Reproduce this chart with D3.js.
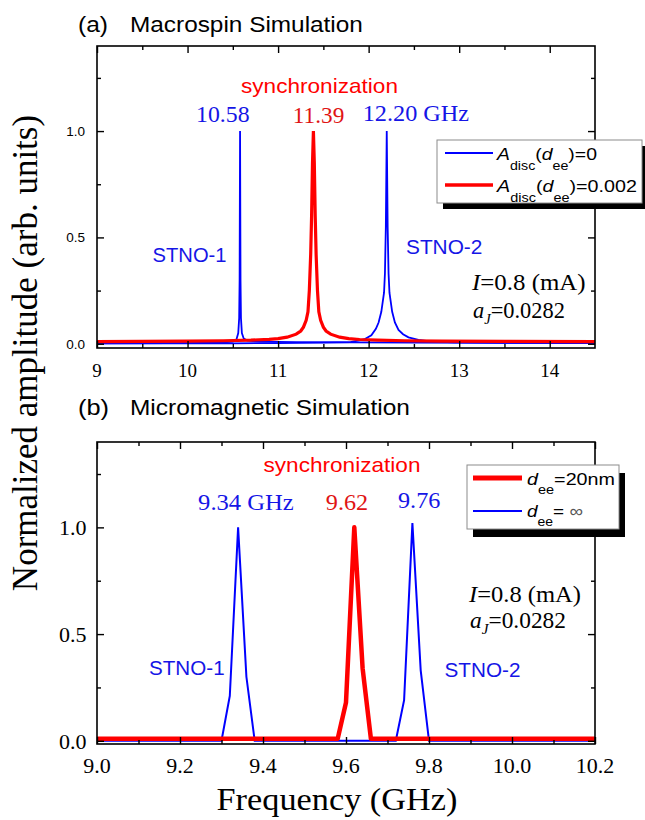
<!DOCTYPE html>
<html>
<head>
<meta charset="utf-8">
<script src="https://cdn.jsdelivr.net/npm/d3@7/dist/d3.min.js"></script>
<style>
  html, body { margin: 0; padding: 0; background: #fff; }
  svg { display: block; }
  text { white-space: pre; }
</style>
</head>
<body>
<svg id="chart" width="645" height="820"></svg>
<script>
// ---------- (a) macrospin spectra: frequency (GHz) / normalized amplitude ----------
const macroStno1Freq = [9.0, 9.8, 10.2, 10.4, 10.5, 10.54, 10.56, 10.57, 10.575, 10.58, 10.585, 10.59, 10.6, 10.62, 10.66, 10.8, 11.2, 11.8, 12.5, 13.5, 14.5];
const macroStno1Amp  = [0.002, 0.003, 0.004, 0.006, 0.01, 0.02, 0.05, 0.12, 0.3, 1.0, 0.3, 0.12, 0.05, 0.025, 0.015, 0.01, 0.008, 0.006, 0.005, 0.004, 0.003];

const macroStno2Freq = [9.0, 10.0, 10.5, 11.0, 11.5, 11.8, 11.95, 12.03, 12.08, 12.11, 12.14, 12.17, 12.18, 12.19, 12.2, 12.21, 12.22, 12.23, 12.26, 12.29, 12.33, 12.38, 12.44, 12.55, 12.7, 12.95, 13.5, 14.5];
const macroStno2Amp  = [0.002, 0.002, 0.002, 0.003, 0.005, 0.008, 0.02, 0.04, 0.07, 0.1, 0.15, 0.24, 0.33, 0.55, 1.0, 0.55, 0.33, 0.24, 0.15, 0.1, 0.065, 0.045, 0.03, 0.018, 0.01, 0.006, 0.004, 0.003];

const macroSyncFreq = [9.0, 9.5, 10.0, 10.4, 10.7, 10.9, 11.0, 11.1, 11.2, 11.25, 11.28, 11.31, 11.33, 11.345, 11.36, 11.37, 11.38, 11.39, 11.40, 11.41, 11.42, 11.435, 11.45, 11.47, 11.50, 11.53, 11.58, 11.68, 11.78, 11.9, 12.1, 12.4, 12.8, 13.5, 14.5];
const macroSyncAmp  = [0.010, 0.011, 0.012, 0.014, 0.017, 0.021, 0.024, 0.031, 0.045, 0.06, 0.078, 0.11, 0.15, 0.25, 0.42, 0.6, 0.85, 1.0, 0.85, 0.6, 0.42, 0.25, 0.15, 0.11, 0.078, 0.06, 0.045, 0.031, 0.024, 0.02, 0.017, 0.014, 0.012, 0.011, 0.010];

const macroPeaks  = [10.58, 11.39, 12.20];
const macroXTicks = [9, 10, 11, 12, 13, 14];
const macroXMinor = [9.5, 10.5, 11.5, 12.5, 13.5];

// ---------- (b) micromagnetic spectra ----------
const microFreeFreq = [9.0, 9.30, 9.32, 9.34, 9.36, 9.38, 9.72, 9.74, 9.76, 9.78, 9.80, 10.2];
const microFreeAmp  = [0, 0, 0.21, 1.0, 0.30, 0, 0, 0.19, 1.02, 0.33, 0, 0];

const microSyncFreq = [9.0, 9.58, 9.60, 9.62, 9.64, 9.66, 10.2];
const microSyncAmp  = [0.01, 0.01, 0.18, 1.0, 0.34, 0.01, 0.01];

const microPeaks  = [9.34, 9.62, 9.76];
const microXTicks = [9.0, 9.2, 9.4, 9.6, 9.8, 10.0, 10.2];
const microXMinor = [9.1, 9.3, 9.5, 9.7, 9.9, 10.1];

const yTicks = [0.0, 0.5, 1.0];
const yMinor = [0.25, 0.75, 1.25];

// ---------- drawing ----------
const SANS  = "'Liberation Sans', Arial, Helvetica, sans-serif";
const SERIF = "'Liberation Serif', 'Times New Roman', Times, serif";
const BLUE = '#0000ff', RED = '#ff0000';
const BLUE_TEXT = '#1515e6', RED_TEXT = '#e01414';

const svg = d3.select('#chart');
const defs = svg.append('defs');

// Text with optional italic / subscript parts; `width` stretches it horizontally.
function label(parent, x, y, parts, o) {
  const g = parent.append('g').attr('transform', `translate(${x},${y})`);
  const t = g.append('text')
    .attr('font-family', o.family)
    .attr('font-size', o.size)
    .attr('fill', o.color || '#000')
    .attr('text-anchor', o.anchor || 'start');
  let shift = 0;
  parts.forEach(p => {
    if (typeof p === 'string') p = { t: p };
    const want = p.sub ? (o.subShift || Math.round(o.size * 0.45)) : 0;
    const ts = t.append('tspan').text(p.t);
    if (want !== shift) ts.attr('dy', want - shift);
    shift = want;
    if (p.sub) ts.attr('font-size', o.subSize || o.size * 0.7);
    if (p.italic) ts.attr('font-style', 'italic');
    if (p.color) ts.attr('fill', p.color);
  });
  if (o.width) {
    const w = t.node().getComputedTextLength();
    if (w > 0) t.attr('transform', `scale(${o.width / w},1)`);
  }
  return g;
}

function panel(cfg) {
  const x = d3.scaleLinear().domain(cfg.xDomain).range([cfg.left, cfg.right]);
  const y = d3.scaleLinear().domain(cfg.yDomain).range([cfg.bottom, cfg.top]);
  const g = svg.append('g');

  defs.append('clipPath').attr('id', cfg.id).append('rect')
    .attr('x', cfg.left).attr('y', cfg.top)
    .attr('width', cfg.right - cfg.left).attr('height', cfg.bottom - cfg.top);

  const plot = g.append('g').attr('clip-path', `url(#${cfg.id})`);
  const line = d3.line().x(d => x(d[0])).y(d => y(d[1]));
  cfg.series.forEach(s => {
    plot.append('path')
      .datum(d3.zip(s.freq, s.amp))
      .attr('d', line)
      .attr('fill', 'none')
      .attr('stroke', s.color)
      .attr('stroke-width', s.width)
      .attr('stroke-linejoin', s.join || 'miter');
  });

  // inward ticks on all four sides
  const clean = sel => {
    sel.select('.domain').remove();
    sel.selectAll('.tick line').attr('stroke', '#000').attr('stroke-width', 1.4);
    sel.selectAll('.tick text').remove();
  };
  const ticks = (axisFn, scale, vals, len, tr) =>
    g.append('g').attr('transform', tr)
      .call(axisFn(scale).tickValues(vals).tickSize(-len).tickFormat(''))
      .call(clean);
  ticks(d3.axisBottom, x, cfg.xTicks, 7, `translate(0,${cfg.bottom})`);
  ticks(d3.axisBottom, x, cfg.xMinor, 4, `translate(0,${cfg.bottom})`);
  ticks(d3.axisTop, x, cfg.xTicks, 7, `translate(0,${cfg.top})`);
  ticks(d3.axisTop, x, cfg.xMinor, 4, `translate(0,${cfg.top})`);
  ticks(d3.axisLeft, y, yTicks, 7, `translate(${cfg.left},0)`);
  ticks(d3.axisLeft, y, yMinor, 4, `translate(${cfg.left},0)`);
  ticks(d3.axisRight, y, yTicks, 7, `translate(${cfg.right},0)`);
  ticks(d3.axisRight, y, yMinor, 4, `translate(${cfg.right},0)`);

  g.append('rect')
    .attr('x', cfg.left).attr('y', cfg.top)
    .attr('width', cfg.right - cfg.left).attr('height', cfg.bottom - cfg.top)
    .attr('fill', 'none').attr('stroke', '#000').attr('stroke-width', 1.6);

  // tick labels
  g.append('g').selectAll('text').data(cfg.xTicks).join('text')
    .attr('x', d => x(d)).attr('y', cfg.bottom + 29)
    .attr('text-anchor', 'middle')
    .attr('font-family', cfg.xLabelFont.family).attr('font-size', cfg.xLabelFont.size)
    .text(cfg.xFormat);
  g.append('g').selectAll('text').data(yTicks).join('text')
    .attr('x', cfg.left - cfg.yLabelGap).attr('y', d => y(d) + cfg.yLabelFont.size * 0.36)
    .attr('text-anchor', 'end')
    .attr('font-family', cfg.yLabelFont.family).attr('font-size', cfg.yLabelFont.size)
    .text(d3.format('.1f'));

  return { x, y, g };
}

// ---- panel (a) ----
const A = panel({
  id: 'clip-a', left: 97, right: 595, top: 46, bottom: 348,
  xDomain: [9, 14.5], yDomain: [-0.02, 1.4],
  xTicks: macroXTicks, xMinor: macroXMinor, xFormat: d3.format('d'),
  xLabelFont: { family: SERIF, size: 19 },
  yLabelFont: { family: SANS, size: 13.5 }, yLabelGap: 12,
  series: [
    { freq: macroStno1Freq, amp: macroStno1Amp, color: BLUE, width: 1.8 },
    { freq: macroStno2Freq, amp: macroStno2Amp, color: BLUE, width: 1.8 },
    { freq: macroSyncFreq,  amp: macroSyncAmp,  color: RED,  width: 3.2 }
  ]
});

// ---- panel (b) ----
const B = panel({
  id: 'clip-b', left: 97, right: 595, top: 442, bottom: 744,
  xDomain: [9.0, 10.2], yDomain: [-0.015, 1.4],
  xTicks: microXTicks, xMinor: microXMinor, xFormat: d3.format('.1f'),
  xLabelFont: { family: SERIF, size: 22 },
  yLabelFont: { family: SERIF, size: 22 }, yLabelGap: 10.5,
  series: [
    { freq: microFreeFreq, amp: microFreeAmp, color: BLUE, width: 2 },
    { freq: microSyncFreq, amp: microSyncAmp, color: RED,  width: 4.5, join: 'round' }
  ]
});

// ---- panel titles ----
label(svg, 78, 32, ['(a)'], { family: SANS, size: 22, width: 30 });
label(svg, 130, 32, ['Macrospin Simulation'], { family: SANS, size: 22, width: 233 });
label(svg, 78, 415, ['(b)'], { family: SANS, size: 22, width: 31 });
label(svg, 130, 415, ['Micromagnetic Simulation'], { family: SANS, size: 22, width: 280 });

// ---- peak frequency labels ----
const fmt2 = d3.format('.2f');
const macroPeakLayout = [
  { dx: -44, y: 122, w: 53.5, color: BLUE_TEXT, suffix: '' },
  { dx: -20.6, y: 123, w: 51.5, color: RED_TEXT, suffix: '' },
  { dx: -24, y: 121, w: 106.4, color: BLUE_TEXT, suffix: ' GHz' }
];
macroPeaks.forEach((v, i) => {
  const L = macroPeakLayout[i];
  label(svg, A.x(v) + L.dx, L.y, [fmt2(v) + L.suffix], { family: SERIF, size: 23, color: L.color, width: L.w });
});
const microPeakLayout = [
  { dx: -40, y: 510, w: 95.6, color: BLUE_TEXT, suffix: ' GHz' },
  { dx: -28.5, y: 510, w: 42.4, color: RED_TEXT, suffix: '' },
  { dx: -14.4, y: 508, w: 42.4, color: BLUE_TEXT, suffix: '' }
];
microPeaks.forEach((v, i) => {
  const L = microPeakLayout[i];
  label(svg, B.x(v) + L.dx, L.y, [fmt2(v) + L.suffix], { family: SERIF, size: 23, color: L.color, width: L.w });
});

// ---- annotations ----
label(svg, 319.5, 93, ['synchronization'], { family: SANS, size: 20, color: RED, anchor: 'middle', width: 157 });
label(svg, 342, 472, ['synchronization'], { family: SANS, size: 20, color: RED, anchor: 'middle', width: 157 });

label(svg, 152.6, 261.5, ['STNO-1'], { family: SANS, size: 20.5, color: BLUE_TEXT, width: 74 });
label(svg, 406, 253.5, ['STNO-2'], { family: SANS, size: 20.5, color: BLUE_TEXT, width: 76.5 });
label(svg, 149, 675, ['STNO-1'], { family: SANS, size: 20.5, color: BLUE_TEXT, width: 75.7 });
label(svg, 444.5, 676.5, ['STNO-2'], { family: SANS, size: 20.5, color: BLUE_TEXT, width: 76 });

const iParts = [{ t: 'I', italic: true }, '=0.8 (mA)'];
const aParts = [{ t: 'a', italic: true }, { t: 'J', sub: true, italic: true }, '=0.0282'];
label(svg, 472, 290, iParts, { family: SERIF, size: 23, width: 113.6 });
label(svg, 473, 318, aParts, { family: SERIF, size: 23, subSize: 15, subShift: 6, width: 92 });
label(svg, 469, 602, iParts, { family: SERIF, size: 23, width: 112 });
label(svg, 470, 628, aParts, { family: SERIF, size: 23, subSize: 15, subShift: 6, width: 96 });

// ---- legends ----
function legend(box, entries) {
  const g = svg.append('g');
  g.append('rect').attr('x', box.x + box.sx).attr('y', box.y + box.sy)
    .attr('width', box.w).attr('height', box.h).attr('fill', '#000');
  g.append('rect').attr('x', box.x).attr('y', box.y)
    .attr('width', box.w).attr('height', box.h)
    .attr('fill', '#fff').attr('stroke', '#8c8c8c').attr('stroke-width', 1);
  entries.forEach(e => {
    g.append('line').attr('x1', box.lx1).attr('x2', box.lx2)
      .attr('y1', e.ly).attr('y2', e.ly)
      .attr('stroke', e.color).attr('stroke-width', e.width);
    label(g, box.tx, e.ty, e.parts, { family: SANS, size: 17, subSize: 12.5, subShift: e.subShift, width: e.tw });
  });
}
legend({ x: 437, y: 140, w: 205, h: 63, sx: 6, sy: 6, lx1: 445, lx2: 493, tx: 497 }, [
  { ly: 153, color: BLUE, width: 2, ty: 160, subShift: 10, tw: 100,
    parts: [{ t: 'A', italic: true }, { t: 'disc', sub: true }, '(', { t: 'd', italic: true }, { t: 'ee', sub: true }, ')=0'] },
  { ly: 185, color: RED, width: 3.5, ty: 191.7, subShift: 10, tw: 140,
    parts: [{ t: 'A', italic: true }, { t: 'disc', sub: true }, '(', { t: 'd', italic: true }, { t: 'ee', sub: true }, ')=0.002'] }
]);
legend({ x: 467, y: 465, w: 152, h: 64, sx: 6, sy: 8, lx1: 473, lx2: 522, tx: 527 }, [
  { ly: 478, color: RED, width: 5, ty: 485, subShift: 8.5, tw: 88,
    parts: [{ t: 'd', italic: true }, { t: 'ee', sub: true }, '=20nm'] },
  { ly: 511, color: BLUE, width: 2, ty: 517, subShift: 8.5, tw: 56,
    parts: [{ t: 'd', italic: true }, { t: 'ee', sub: true }, '= ', { t: '\u221E', color: '#555' }] }
]);

// ---- axis titles ----
svg.append('g').attr('transform', 'translate(37,353) rotate(-90)')
  .append('text').attr('text-anchor', 'middle')
  .attr('font-family', SERIF).attr('font-size', 35)
  .text('Normalized amplitude (arb. units)');
label(svg, 337, 810, ['Frequency (GHz)'], { family: SERIF, size: 31, anchor: 'middle', width: 241 });
</script>
</body>
</html>
